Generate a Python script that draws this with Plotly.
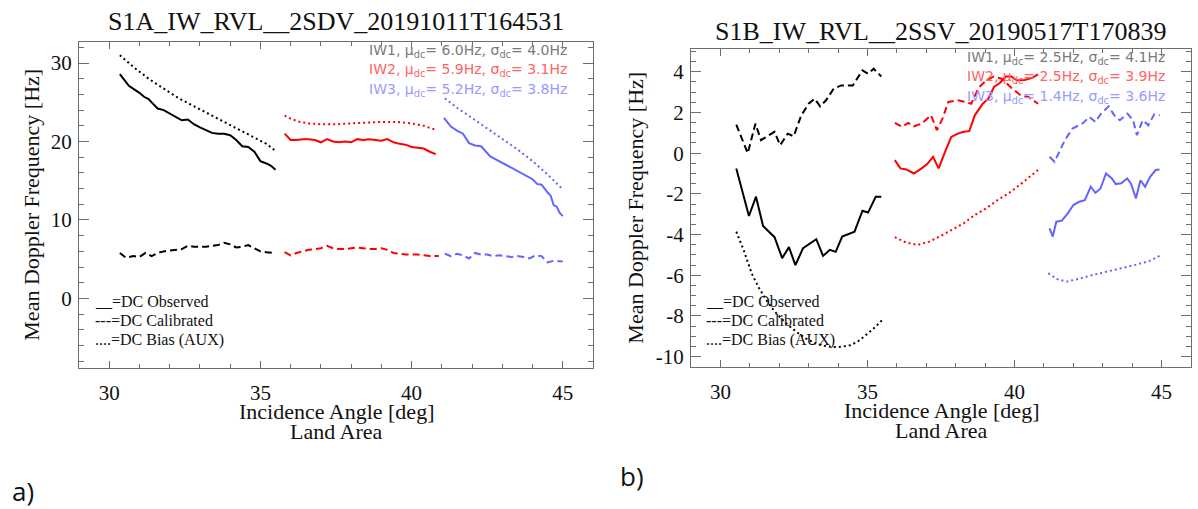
import plotly.graph_objects as go

W, H = 1198, 509

# ---------------- Panel a) S1A_IW_RVL__2SDV_20191011T164531 ----------------
a_iw1_obs_x = [30.35, 30.5, 30.65, 30.8, 31.0, 31.15, 31.3, 31.45, 31.6, 31.8, 32.0, 32.2, 32.4, 32.6,
               32.8, 33.0, 33.2, 33.4, 33.6, 33.8, 34.0, 34.2, 34.4, 34.6, 34.8, 35.0, 35.2, 35.35, 35.5]
a_iw1_obs_y = [28.6, 27.8, 27.1, 26.7, 26.2, 25.7, 25.4, 24.8, 24.2, 24.0, 23.6, 23.2, 22.7, 22.8,
               22.2, 21.8, 21.4, 21.1, 21.0, 21.0, 20.8, 20.2, 19.4, 19.3, 18.7, 17.5, 17.2, 16.9, 16.4]
a_iw1_cal_x = [30.35, 30.55, 30.8, 31.0, 31.2, 31.4, 31.6, 31.8, 32.0, 32.2, 32.4, 32.6, 32.8, 33.0,
               33.2, 33.4, 33.6, 33.8, 34.0, 34.2, 34.4, 34.6, 34.8, 35.0, 35.2, 35.5]
a_iw1_cal_y = [5.8, 5.2, 5.4, 5.3, 5.8, 5.4, 5.8, 6.0, 6.1, 6.2, 6.3, 6.7, 6.6, 6.6,
               6.6, 6.7, 6.8, 7.1, 6.9, 6.5, 6.6, 6.8, 6.4, 6.0, 5.9, 5.8]
a_iw1_bias_x = [30.35, 30.8, 31.3, 31.8, 32.3, 32.8, 33.3, 33.8, 34.3, 34.8, 35.2, 35.5]
a_iw1_bias_y = [31.0, 29.5, 28.0, 26.7, 25.5, 24.5, 23.5, 22.6, 21.6, 20.6, 19.7, 18.8]

a_iw2_obs_x = [35.8, 36.0, 36.2, 36.4, 36.6, 36.8, 37.0, 37.2, 37.4, 37.6, 37.8, 38.0, 38.2, 38.4,
               38.6, 38.8, 39.0, 39.2, 39.4, 39.6, 39.8, 40.0, 40.2, 40.4, 40.6, 40.8]
a_iw2_obs_y = [21.0, 20.2, 20.2, 20.3, 20.3, 20.2, 19.9, 20.3, 20.0, 19.9, 20.0, 19.9, 20.3, 20.2,
               20.3, 20.2, 20.1, 20.3, 19.9, 19.7, 19.6, 19.3, 19.2, 19.1, 18.7, 18.4]
a_iw2_cal_x = [35.8, 36.0, 36.2, 36.4, 36.6, 36.8, 37.0, 37.2, 37.4, 37.6, 37.8, 38.0, 38.2, 38.4,
               38.6, 38.8, 39.0, 39.2, 39.4, 39.6, 39.8, 40.0, 40.2, 40.4, 40.6, 40.9]
a_iw2_cal_y = [5.9, 5.5, 5.8, 6.0, 6.2, 6.3, 6.4, 6.7, 6.4, 6.3, 6.3, 6.4, 6.5, 6.4,
               6.3, 6.3, 6.4, 6.2, 5.8, 5.7, 5.6, 5.6, 5.6, 5.5, 5.4, 5.4]
a_iw2_bias_x = [35.8, 36.0, 36.3, 36.6, 37.0, 37.5, 38.0, 38.5, 39.0, 39.5, 40.0, 40.4, 40.8]
a_iw2_bias_y = [23.3, 22.9, 22.5, 22.3, 22.2, 22.2, 22.3, 22.4, 22.5, 22.5, 22.3, 22.0, 21.5]

a_iw3_obs_x = [41.07, 41.3, 41.5, 41.7, 41.9, 42.1, 42.3, 42.6, 42.8, 43.0, 43.2, 43.4, 43.6, 43.8,
               44.0, 44.15, 44.3, 44.5, 44.6, 44.7, 44.8, 44.9, 45.0]
a_iw3_obs_y = [23.0, 21.9, 21.4, 21.0, 19.8, 19.5, 19.4, 18.1, 17.7, 17.3, 16.9, 16.5, 16.0, 15.6,
               15.2, 14.6, 14.5, 13.5, 13.1, 11.9, 11.7, 10.9, 10.5]
a_iw3_cal_x = [41.1, 41.3, 41.5, 41.7, 41.9, 42.1, 42.3, 42.5, 42.7, 42.9, 43.1, 43.3, 43.5, 43.7,
               43.9, 44.1, 44.3, 44.5, 44.7, 45.0]
a_iw3_cal_y = [5.7, 5.4, 5.7, 5.5, 5.1, 5.8, 5.6, 5.6, 5.4, 5.5, 5.4, 5.3, 5.4, 5.3,
               5.1, 5.5, 5.4, 4.6, 4.8, 4.7]
a_iw3_bias_x = [41.1, 41.5, 42.0, 42.5, 43.0, 43.5, 44.0, 44.5, 45.0]
a_iw3_bias_y = [25.5, 24.3, 23.0, 21.7, 20.3, 19.0, 17.5, 15.8, 13.9]

a_stats = [("IW1", "6.0", "4.0"), ("IW2", "5.9", "3.1"), ("IW3", "5.2", "3.8")]

# ---------------- Panel b) S1B_IW_RVL__2SSV_20190517T170839 ----------------
b_iw1_obs_x = [30.54, 30.73, 30.97, 31.21, 31.45, 31.84, 32.1, 32.33, 32.55, 32.81, 33.26, 33.49,
               33.72, 33.92, 34.14, 34.56, 34.83, 35.02, 35.28, 35.47]
b_iw1_obs_y = [-0.75, -1.73, -3.09, -2.14, -3.58, -4.13, -5.16, -4.62, -5.5, -4.67, -4.23, -5.05,
               -4.75, -4.85, -4.1, -3.86, -2.83, -2.92, -2.14, -2.14]
b_iw1_cal_x = [30.54, 30.93, 31.19, 31.38, 31.84, 32.03, 32.29, 32.49, 32.75, 33.0, 33.2, 33.39,
               33.59, 33.85, 34.11, 34.5, 34.83, 35.02, 35.21, 35.47]
b_iw1_cal_y = [1.4, 0.0, 1.45, 0.64, 1.05, 0.39, 0.96, 0.83, 1.86, 2.43, 2.68, 2.3,
               2.6, 3.17, 3.33, 3.33, 4.07, 3.9, 4.15, 3.77]
b_iw1_bias_x = [30.54, 30.8, 31.06, 31.3, 31.55, 31.8, 32.05, 32.3, 32.6, 32.9, 33.2, 33.5,
                33.85, 34.1, 34.4, 34.65, 34.9, 35.15, 35.3, 35.5]
b_iw1_bias_y = [-3.86, -4.8, -5.9, -6.6, -7.2, -7.7, -8.1, -8.45, -8.8, -9.1, -9.33, -9.47,
                -9.53, -9.52, -9.45, -9.28, -9.0, -8.7, -8.5, -8.2]

b_iw2_obs_x = [35.93, 36.12, 36.32, 36.58, 36.84, 37.03, 37.23, 37.42, 37.62, 37.85, 38.07, 38.27,
               38.46, 38.65, 38.92, 39.11, 39.3, 39.5, 39.7, 39.89, 40.08, 40.34, 40.6, 40.8]
b_iw2_obs_y = [-0.34, -0.75, -0.8, -1.0, -0.75, -0.54, -0.18, -0.75, 0.0, 0.8, 0.96, 1.05,
               1.08, 1.86, 2.43, 2.68, 3.25, 3.45, 3.77, 3.77, 3.58, 3.6, 3.7, 3.87]
b_iw2_cal_x = [35.93, 36.19, 36.38, 36.58, 36.84, 37.16, 37.36, 37.55, 37.75, 38.07, 38.33, 38.53,
               38.78, 39.04, 39.3, 39.56, 39.89, 40.21, 40.47, 40.8]
b_iw2_cal_y = [1.49, 1.29, 1.49, 1.32, 1.45, 1.86, 1.13, 1.7, 2.52, 2.6, 2.52, 2.43,
               3.22, 3.58, 3.77, 3.66, 3.22, 2.84, 2.76, 2.43]
b_iw2_bias_x = [35.93, 36.32, 36.71, 37.1, 37.49, 37.88, 38.27, 38.65, 39.04, 39.43, 39.82, 40.21,
                40.53, 40.8]
b_iw2_bias_y = [-4.13, -4.4, -4.51, -4.35, -4.07, -3.77, -3.45, -3.04, -2.71, -2.3, -1.95, -1.52,
                -1.16, -0.83]

b_iw3_obs_x = [41.19, 41.3, 41.42, 41.61, 41.81, 42.0, 42.2, 42.39, 42.59, 42.75, 42.92, 43.11,
               43.31, 43.44, 43.63, 43.83, 43.96, 44.13, 44.28, 44.44, 44.61, 44.8, 44.93]
b_iw3_obs_y = [-3.7, -4.1, -3.37, -3.32, -2.96, -2.55, -2.39, -2.31, -1.65, -1.95, -1.75, -1.0,
               -1.24, -1.52, -1.48, -1.24, -1.5, -2.22, -1.33, -1.65, -1.16, -0.83, -0.8]
b_iw3_cal_x = [41.19, 41.36, 41.52, 41.71, 41.97, 42.3, 42.55, 42.75, 42.94, 43.2, 43.39, 43.58,
               43.84, 44.03, 44.16, 44.36, 44.55, 44.75, 44.94]
b_iw3_cal_y = [-0.18, -0.42, 0.06, 0.64, 1.21, 1.45, 1.78, 1.53, 1.94, 2.3, 1.86, 1.62,
               1.94, 1.62, 0.88, 1.62, 1.37, 1.91, 1.86]
b_iw3_bias_x = [41.15, 41.45, 41.77, 42.16, 42.68, 43.33, 44.11, 44.63, 44.99]
b_iw3_bias_y = [-5.9, -6.19, -6.31, -6.19, -5.98, -5.77, -5.49, -5.28, -5.0]

b_stats = [("IW1", "2.5", "4.1"), ("IW2", "2.5", "3.9"), ("IW3", "1.4", "3.6")]

# ---------------- axes / labels ----------------
x_tickvals = [30, 35, 40, 45]
x_ticktext = ["30", "35", "40", "45"]
a_y_tickvals = [0, 10, 20, 30]
a_y_ticktext = ["0", "10", "20", "30"]
b_y_tickvals = [-10, -8, -6, -4, -2, 0, 2, 4]
b_y_ticktext = ["-10", "-8", "-6", "-4", "-2", "0", "2", "4"]

titles = ["S1A_IW_RVL__2SDV_20191011T164531", "S1B_IW_RVL__2SSV_20190517T170839"]
x_title = "Incidence Angle [deg]<br>Land Area"
y_title = "Mean Doppler Frequency [Hz]"
legend_lines = ["__=DC Observed", "---=DC Calibrated", "....=DC Bias (AUX)"]

COL = {"IW1": "#000000", "IW2": "#ff0000", "IW3": "#6464ff"}
STAT_COL = {"IW1": "#7a7a7a", "IW2": "#ff6464", "IW3": "#9a9aff"}
DASH = {"obs": "solid", "cal": "7px,4px", "bias": "2px,3px"}

SERIF = "Liberation Serif"

fig = go.Figure()

def add_series(xs, ys, color, dash, xa, ya):
    fig.add_trace(go.Scatter(x=xs, y=ys, mode="lines", xaxis=xa, yaxis=ya, showlegend=False,
                             line=dict(color=color, width=2, dash=dash), hoverinfo="skip"))

panel_a = [
    ("IW1", a_iw1_obs_x, a_iw1_obs_y, a_iw1_cal_x, a_iw1_cal_y, a_iw1_bias_x, a_iw1_bias_y),
    ("IW2", a_iw2_obs_x, a_iw2_obs_y, a_iw2_cal_x, a_iw2_cal_y, a_iw2_bias_x, a_iw2_bias_y),
    ("IW3", a_iw3_obs_x, a_iw3_obs_y, a_iw3_cal_x, a_iw3_cal_y, a_iw3_bias_x, a_iw3_bias_y),
]
panel_b = [
    ("IW1", b_iw1_obs_x, b_iw1_obs_y, b_iw1_cal_x, b_iw1_cal_y, b_iw1_bias_x, b_iw1_bias_y),
    ("IW2", b_iw2_obs_x, b_iw2_obs_y, b_iw2_cal_x, b_iw2_cal_y, b_iw2_bias_x, b_iw2_bias_y),
    ("IW3", b_iw3_obs_x, b_iw3_obs_y, b_iw3_cal_x, b_iw3_cal_y, b_iw3_bias_x, b_iw3_bias_y),
]
for panel, xa, ya in [(panel_a, "x", "y"), (panel_b, "x2", "y2")]:
    for name, ox, oy, cx, cy, bx, by in panel:
        add_series(ox, oy, COL[name], DASH["obs"], xa, ya)
        add_series(cx, cy, COL[name], DASH["cal"], xa, ya)
        add_series(bx, by, COL[name], DASH["bias"], xa, ya)

def px(x):
    return x / W

def py(y):
    return 1 - y / H

# plot boxes in pixels: (left, right, top, bottom)
box_a = (79, 593, 42, 369)
box_b = (691, 1191, 49, 368)

axis_common = dict(showline=True, linecolor="#6e6e6e", linewidth=1, mirror="ticks",
                   ticks="inside", tickcolor="#6e6e6e", showgrid=False, zeroline=False,
                   tickfont=dict(family=SERIF, size=21, color="#111"))

def xaxis_cfg(box, anchor):
    return dict(axis_common, domain=[px(box[0]), px(box[1])], range=[29, 46], anchor=anchor,
                tickvals=x_tickvals, ticktext=x_ticktext, ticklen=7,
                minor=dict(ticks="inside", dtick=1, ticklen=4, tickcolor="#6e6e6e"),
                ticklabelstandoff=6)

def yaxis_cfg(box, anchor, rng, tv, tt, mdt):
    return dict(axis_common, domain=[py(box[3]), py(box[2])], range=rng, anchor=anchor,
                tickvals=tv, ticktext=tt, ticklen=10,
                minor=dict(ticks="inside", dtick=mdt, ticklen=5, tickcolor="#6e6e6e"),
                ticklabelstandoff=2)

fig.update_layout(
    width=W, height=H, margin=dict(l=0, r=0, t=0, b=0),
    paper_bgcolor="white", plot_bgcolor="white", showlegend=False,
    xaxis=xaxis_cfg(box_a, "y"),
    yaxis=yaxis_cfg(box_a, "x", [-8.8, 32.7], a_y_tickvals, a_y_ticktext, 2),
    xaxis2=xaxis_cfg(box_b, "y2"),
    yaxis2=yaxis_cfg(box_b, "x2", [-10.49, 5.13], b_y_tickvals, b_y_ticktext, 0.5),
)

ann = []

def text(x, y, s, size, family=SERIF, color="#111", xanchor="center", angle=0):
    ann.append(dict(x=px(x), y=py(y), xref="paper", yref="paper", text=s, showarrow=False,
                    xanchor=xanchor, yanchor="middle", textangle=angle,
                    font=dict(family=family, size=size, color=color)))

for box, title, stats, ty, yt_x, leg_x in [(box_a, titles[0], a_stats, 22, 32, 93),
                                           (box_b, titles[1], b_stats, 32, 636, 704)]:
    cx = (box[0] + box[1]) / 2
    cy = (box[2] + box[3]) / 2
    text(cx, ty, title, 26)
    text(cx, box[3] + 44, "Incidence Angle [deg]", 22)
    text(cx, box[3] + 64, "Land Area", 22)
    text(yt_x, cy, y_title, 22, angle=-90)
    for i, (iw, mu, sg) in enumerate(stats):
        s = f"{iw}, μ<sub>dc</sub>= {mu}Hz, σ<sub>dc</sub>= {sg}Hz"
        text(box[1] - 24, box[2] + 9 + i * 19.5, s, 14, family="DejaVu Sans",
             color=STAT_COL[iw], xanchor="right")
    for i, line in enumerate(legend_lines):
        text(leg_x, 303 + i * 19, line, 16, xanchor="left")

text(10, 493, "a)", 26, family="Open Sans", xanchor="left")
text(618, 478, "b)", 26, family="Open Sans", xanchor="left")

fig.update_layout(annotations=ann)
fig.write_html("out.html")
